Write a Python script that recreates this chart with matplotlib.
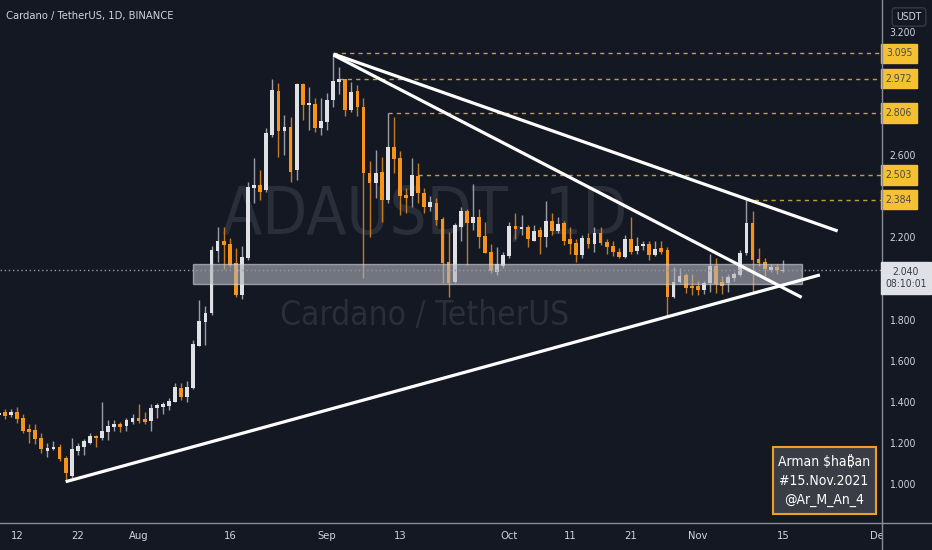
import numpy as np
import pandas as pd
import matplotlib
matplotlib.use('Agg')
import matplotlib.pyplot as plt
import matplotlib.dates as mdates
import matplotlib.transforms as mtransforms
from matplotlib.patches import Rectangle
from matplotlib.lines import Line2D

plt.rcParams['font.family'] = ['DejaVu Sans', 'Noto Sans']
plt.rcParams['font.stretch'] = 'condensed'

# daily candles ADA/USDT, 9 Jul 2021 .. 15 Nov 2021
dates = pd.date_range('2021-07-09', '2021-11-15', freq='D')
opens = [1.335, 1.352, 1.337, 1.349, 1.320, 1.266, 1.263, 1.222, 1.162, 1.169, 1.182, 1.128, 1.040,
         1.162, 1.182, 1.200, 1.233, 1.222, 1.252, 1.276, 1.292, 1.282, 1.302,
         1.320, 1.316, 1.307, 1.368, 1.376, 1.381, 1.400, 1.469, 1.425, 1.466,
         1.673, 1.790, 1.830, 2.135, 2.183, 2.168, 2.074, 1.920, 2.098, 2.439,
         2.455, 2.430, 2.700, 2.914, 2.719, 2.739, 2.528, 2.946, 2.844, 2.849,
         2.730, 2.763, 2.869, 2.958, 2.969, 2.820, 2.914, 2.836, 2.512, 2.466,
         2.520, 2.382, 2.638, 2.585, 2.406, 2.400, 2.499, 2.418, 2.350, 2.369,
         2.288, 2.082, 1.984, 2.252, 2.330, 2.272, 2.298, 2.207, 2.130, 2.033,
         2.060, 2.110, 2.255, 2.239, 2.249, 2.184, 2.236, 2.203, 2.281, 2.233,
         2.271, 2.191, 2.171, 2.114, 2.196, 2.168, 2.220, 2.179, 2.158, 2.130,
         2.106, 2.190, 2.135, 2.158, 2.168, 2.114, 2.147, 2.139, 1.909, 1.984,
         2.017, 1.963, 1.963, 1.944, 1.977, 2.061, 1.984, 1.977, 2.000, 2.017,
         2.123, 2.270, 2.093, 2.082, 2.041, 2.054, 2.038]
highs = [1.350, 1.366, 1.366, 1.373, 1.340, 1.292, 1.290, 1.246, 1.200, 1.210, 1.195, 1.136, 1.222,
         1.200, 1.220, 1.250, 1.240, 1.398, 1.310, 1.310, 1.300, 1.320, 1.340,
         1.390, 1.350, 1.390, 1.395, 1.400, 1.420, 1.490, 1.490, 1.500, 1.700,
         1.895, 1.866, 2.160, 2.250, 2.250, 2.196, 2.147, 2.160, 2.470, 2.585,
         2.528, 2.730, 2.970, 2.950, 2.795, 2.787, 2.950, 2.950, 2.933, 2.880,
         2.880, 2.904, 3.095, 3.030, 2.972, 2.958, 2.940, 2.877, 2.570, 2.625,
         2.590, 2.806, 2.785, 2.620, 2.440, 2.585, 2.560, 2.440, 2.400, 2.390,
         2.300, 2.228, 2.270, 2.346, 2.340, 2.460, 2.340, 2.276, 2.170, 2.155,
         2.130, 2.276, 2.320, 2.310, 2.260, 2.260, 2.250, 2.378, 2.320, 2.300,
         2.280, 2.250, 2.190, 2.210, 2.220, 2.250, 2.250, 2.190, 2.180, 2.150,
         2.210, 2.300, 2.200, 2.180, 2.180, 2.180, 2.180, 2.155, 2.054, 2.050,
         2.028, 2.020, 1.990, 1.990, 2.120, 2.100, 2.010, 2.020, 2.030, 2.140,
         2.384, 2.330, 2.150, 2.100, 2.070, 2.070, 2.090]
lows = [1.330, 1.317, 1.325, 1.298, 1.247, 1.201, 1.195, 1.150, 1.130, 1.165, 1.110, 1.012, 1.030,
        1.140, 1.140, 1.195, 1.180, 1.214, 1.214, 1.260, 1.255, 1.258, 1.290,
        1.295, 1.290, 1.260, 1.320, 1.340, 1.360, 1.400, 1.410, 1.400, 1.460,
        1.670, 1.676, 1.820, 2.080, 2.045, 2.057, 1.911, 1.900, 2.090, 2.366,
        2.382, 2.420, 2.690, 2.590, 2.600, 2.470, 2.480, 2.770, 2.720, 2.714,
        2.700, 2.720, 2.836, 2.900, 2.790, 2.810, 2.790, 2.000, 2.200, 2.390,
        2.276, 2.366, 2.512, 2.310, 2.317, 2.350, 2.366, 2.317, 2.330, 2.260,
        1.977, 1.911, 1.977, 2.180, 2.066, 2.236, 2.147, 2.122, 2.028, 2.017,
        2.050, 2.100, 2.190, 2.210, 2.155, 2.180, 2.120, 2.155, 2.210, 2.220,
        2.165, 2.120, 2.080, 2.100, 2.150, 2.130, 2.165, 2.120, 2.110, 2.100,
        2.100, 2.120, 2.120, 2.140, 2.090, 2.110, 2.120, 1.814, 1.904, 1.980,
        1.928, 1.920, 1.920, 1.925, 1.935, 1.930, 1.925, 1.935, 1.990, 2.010,
        2.114, 1.935, 2.060, 2.010, 2.030, 2.020, 2.030]
closes = [1.345, 1.331, 1.349, 1.315, 1.260, 1.253, 1.218, 1.169, 1.174, 1.179, 1.120, 1.052, 1.170,
          1.185, 1.209, 1.233, 1.222, 1.258, 1.282, 1.290, 1.279, 1.311, 1.320,
          1.308, 1.303, 1.371, 1.384, 1.389, 1.404, 1.473, 1.422, 1.473, 1.680,
          1.793, 1.830, 2.139, 2.184, 2.165, 2.066, 1.920, 2.106, 2.447, 2.455,
          2.422, 2.707, 2.917, 2.719, 2.739, 2.520, 2.946, 2.844, 2.855, 2.730,
          2.768, 2.869, 2.962, 2.969, 2.820, 2.909, 2.836, 2.512, 2.466, 2.515,
          2.382, 2.641, 2.580, 2.400, 2.390, 2.504, 2.415, 2.350, 2.370, 2.285,
          2.074, 1.977, 2.260, 2.330, 2.272, 2.300, 2.203, 2.126, 2.038, 2.070,
          2.114, 2.255, 2.239, 2.249, 2.190, 2.233, 2.203, 2.281, 2.233, 2.265,
          2.184, 2.168, 2.114, 2.196, 2.168, 2.220, 2.174, 2.155, 2.130, 2.106,
          2.190, 2.130, 2.158, 2.168, 2.114, 2.142, 2.131, 1.909, 1.984, 2.012,
          1.952, 1.952, 1.944, 1.977, 2.061, 1.973, 1.963, 2.006, 2.022, 2.123,
          2.270, 2.090, 2.077, 2.045, 2.054, 2.041, 2.040]

# drawings
trend_lines = [  # (date0, price0, date1, price1)
    ('2021-07-20 00:00', 1.011, '2021-11-21 02:00', 2.017),
    ('2021-09-02 02:00', 3.092, '2021-11-24 00:00', 2.231),
    ('2021-09-02 02:00', 3.087, '2021-11-18 02:00', 1.908),
]
levels = [3.095, 2.972, 2.806, 2.503, 2.384]
level_starts = ['2021-09-02 00:00', '2021-09-03 00:00', '2021-09-11 00:00', '2021-09-16 00:00', '2021-11-09 00:00']
zone_dates = ['2021-08-10 00:00', '2021-11-18 05:00']
zone_prices = (1.973, 2.070)
last_price = 2.040

tick_dates = ['2021-07-12', '2021-07-22', '2021-08-01', '2021-08-16', '2021-09-01', '2021-09-13',
              '2021-10-01', '2021-10-11', '2021-10-21', '2021-11-01', '2021-11-15', '2021-12-01']
tick_labels = ['12', '22', 'Aug', '16', 'Sep', '13', 'Oct', '11', '21', 'Nov', '15', 'Dec']
# price scale ticks that are not covered by the label boxes
price_ticks = [1.0, 1.2, 1.4, 1.6, 1.8, 2.2, 2.6, 3.0, 3.2]


def dnum(s):
    return mdates.date2num(pd.to_datetime(s, format='mixed'))


BG = '#141823'
TXT = '#d1d4dc'
UP_BODY, UP_WICK = '#e0e1e4', '#9a9da6'
DN_BODY, DN_WICK = '#f7931a', '#c47a22'
LEVEL = '#d9bd3c'
BOX = '#f5c031'
WM = '#2a2e3a'

W, H = 932, 550
fig = plt.figure(figsize=(W / 100, H / 100), dpi=100, facecolor=BG)
ax = fig.add_axes([0, 27 / H, 882 / W, 523 / H])
ax.set_facecolor(BG)
for s in ax.spines.values():
    s.set_visible(False)

x = mdates.date2num(dates)
o = np.array(opens); h = np.array(highs); l = np.array(lows); c = np.array(closes)
up = c >= o
x0 = dnum('2021-07-12')
ax.set_xlim(x0 - 2.8, x0 + 142.3)
ax.set_ylim(0.81, 3.355)

# watermark
ax.text(425 / W, 1 - 216 / H, 'ADAUSDT, 1D', transform=fig.transFigure, ha='center', va='center',
        fontsize=47, color=WM, zorder=0.5)
ax.text(425 / W, 1 - 316 / H, 'Cardano / TetherUS', transform=fig.transFigure, ha='center', va='center',
        fontsize=24, color=WM, zorder=0.5)

# candles
ax.vlines(x[up], l[up], h[up], color=UP_WICK, lw=1, zorder=2)
ax.vlines(x[~up], l[~up], h[~up], color=DN_WICK, lw=1, zorder=2)
body_lo = np.minimum(o, c)
body_h = np.maximum(np.abs(c - o), 0.004)
ax.bar(x[up], body_h[up], bottom=body_lo[up], width=0.62, color=UP_BODY, zorder=2.1)
ax.bar(x[~up], body_h[~up], bottom=body_lo[~up], width=0.62, color=DN_BODY, zorder=2.1)

# support zone
zd = dnum(zone_dates)
ax.add_patch(Rectangle((zd[0], zone_prices[0]), zd[1] - zd[0], zone_prices[1] - zone_prices[0],
                       fc='#b2b5be', ec='#d1d4dc', lw=1, alpha=0.6, zorder=3))

# last price dotted line
ax.axhline(last_price, color='#9598a1', lw=1, ls=(0, (1, 2)), zorder=3.2)

# horizontal levels
xr = ax.get_xlim()[1]
for lv, sd in zip(levels, level_starts):
    ax.plot([dnum(sd), xr], [lv, lv], color=LEVEL, lw=1, ls=(0, (3, 3)), alpha=0.85, zorder=3)

# trend lines
for d0, p0, d1, p1 in trend_lines:
    ax.plot(dnum([d0, d1]), [p0, p1], color='white', lw=2.3, solid_capstyle='butt', zorder=4)

# axes ticks
ax.set_xticks(dnum(tick_dates))
ax.set_xticklabels(tick_labels)
ax.tick_params(axis='x', length=0, pad=6, labelsize=8, labelcolor=TXT)
ax.yaxis.tick_right()
ax.set_yticks(price_ticks)
ax.set_yticklabels([f'{p:.3f}' for p in price_ticks])
ax.tick_params(axis='y', length=0, pad=5, labelsize=7.5, labelcolor=TXT)

# price scale labels
blend = mtransforms.blended_transform_factory(fig.transFigure, ax.transData)
for lv in levels:
    ax.text(899 / W, lv, f'{lv:.3f}', transform=blend, ha='center', va='center', fontsize=7.5,
            color='#4a4a4a', clip_on=False, zorder=6,
            bbox=dict(boxstyle='square,pad=0.45', fc=BOX, ec=BOX))
fig.text(906 / W, 1 - 278 / H, f'{last_price:.3f}\n08:10:01', ha='center', va='center',
         fontsize=7.5, color='#3a3e48', zorder=6, linespacing=1.35,
         bbox=dict(boxstyle='square,pad=0.45', fc='#dfe1e6', ec='#dfe1e6'))
fig.text(909 / W, 1 - 17 / H, 'USDT', ha='center', va='center', fontsize=7.5, color=TXT,
         bbox=dict(boxstyle='round,pad=0.4,rounding_size=0.3', fc=BG, ec='#363a45'))

# title
fig.text(6 / W, 1 - 16 / H, 'Cardano / TetherUS, 1D, BINANCE', ha='left', va='center',
         fontsize=8, color=TXT)

# signature box
fig.add_artist(Rectangle((773 / W, 1 - 514 / H), 103 / W, 67 / H, transform=fig.transFigure,
                         fc='#3a3d46', ec='#f0a020', lw=1.5, zorder=5))
for ty, line in zip([462, 481, 500], ['Arman $ha\u20bfan', '#15.Nov.2021', '@Ar_M_An_4']):
    fig.text(824 / W, 1 - ty / H, line, ha='center', va='center', fontsize=10, color='white', zorder=6)

# pane separators
fig.add_artist(Rectangle((883 / W, 0), 49 / W, 27 / H, transform=fig.transFigure, fc=BG, ec='none', zorder=1))
fig.add_artist(Line2D([882 / W, 882 / W], [0, 1], transform=fig.transFigure, color='#8a8d96', lw=1, zorder=2))
fig.add_artist(Line2D([0, 1], [27 / H, 27 / H], transform=fig.transFigure, color='#8a8d96', lw=1, zorder=2))

fig.savefig('out.png', dpi=100, facecolor=BG)
